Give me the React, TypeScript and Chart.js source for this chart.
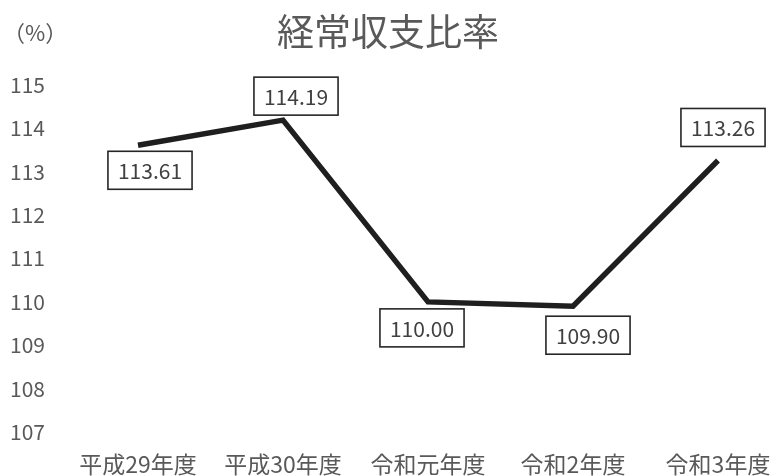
import React, { useEffect, useRef } from "react";
import { Chart, registerables } from "chart.js";

Chart.register(...registerables);

const categories = ["平成29年度", "平成30年度", "令和元年度", "令和2年度", "令和3年度"];
const ratioValues = [113.61, 114.19, 110.0, 109.9, 113.26];
const labelTexts = ["113.61", "114.19", "110.00", "109.90", "113.26"];
const yMin = 107;
const yMax = 115;
const titleText = "経常収支比率";
const unitText = "（%）";

// label box offsets relative to point (style)
const labelOffsets = [
  [12, 25],
  [13, -24],
  [-6, 26],
  [15, 29],
  [5, -33],
];

const FONT = "'Noto Sans CJK JP', 'Noto Sans', sans-serif";
const GRAY = "#595959";

const labelPlugin = {
  id: "boxLabels",
  afterDatasetsDraw(chart: any) {
    const ctx = chart.ctx;
    const meta = chart.getDatasetMeta(0);
    ctx.save();
    ctx.font = `21px ${FONT}`;
    ctx.textAlign = "center";
    ctx.textBaseline = "middle";
    meta.data.forEach((el: any, i: number) => {
      const [dx, dy] = labelOffsets[i];
      const cx = el.x + dx;
      const cy = el.y + dy;
      const txt = labelTexts[i];
      const w = ctx.measureText(txt).width + 20;
      const h = 38;
      ctx.fillStyle = "#ffffff";
      ctx.fillRect(cx - w / 2, cy - h / 2, w, h);
      ctx.lineWidth = 1.6;
      ctx.strokeStyle = "#262626";
      ctx.strokeRect(cx - w / 2, cy - h / 2, w, h);
      ctx.fillStyle = "#404040";
      ctx.fillText(txt, cx, cy + 1);
    });
    // unit label
    ctx.font = `22px ${FONT}`;
    ctx.textAlign = "left";
    ctx.fillStyle = GRAY;
    ctx.fillText(unitText, 3, 33);
    // title
    ctx.font = `37px ${FONT}`;
    ctx.textAlign = "center";
    ctx.fillText(titleText, 388, 32);
    ctx.restore();
  },
};

export default function App() {
  const ref = useRef<HTMLCanvasElement>(null);
  useEffect(() => {
    document.body.style.margin = "0";
    const chart = new Chart(ref.current!, {
      type: "line",
      data: {
        labels: categories,
        datasets: [
          {
            data: ratioValues,
            borderColor: "#1f1f1f",
            borderWidth: 5.5,
            pointRadius: 0,
            tension: 0,
            fill: false,
          },
        ],
      },
      options: {
        animation: false,
        responsive: false,
        devicePixelRatio: 1,
        layout: { padding: { left: 8, right: 55, top: 85, bottom: 0 } },
        plugins: {
          legend: { display: false },
          tooltip: { enabled: false },
          title: { display: false },
        },
        scales: {
          x: {
            offset: false,
            grid: { display: false, drawTicks: false },
            border: { display: false },
            ticks: {
              color: GRAY,
              font: { family: FONT, size: 23 },
              padding: 18,
              maxRotation: 0,
              autoSkip: false,
            },
            afterFit(scale: any) {
              scale.height = 44;
              scale.paddingLeft = 0;
              scale.paddingRight = 0;
            },
          },
          y: {
            min: yMin,
            max: yMax,
            grid: { display: false, drawTicks: false },
            border: { display: false },
            ticks: {
              stepSize: 1,
              color: GRAY,
              font: { family: FONT, size: 21 },
              padding: 93,
            },
            afterFit(scale: any) {
              scale.width = 130;
              scale.paddingTop = 0;
              scale.paddingBottom = 0;
            },
          },
        },
      },
      plugins: [labelPlugin],
    });
    return () => chart.destroy();
  }, []);
  return (
    <div style={{ width: 773, height: 476 }}>
      <canvas ref={ref} width={773} height={476} style={{ display: "block" }} />
    </div>
  );
}
